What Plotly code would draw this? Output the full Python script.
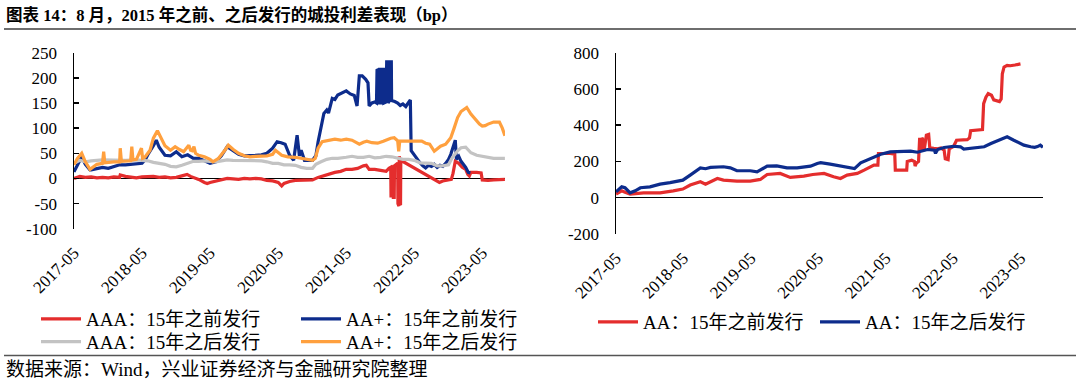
import pandas as pd
import plotly.graph_objects as go

# ---------------- data (month offsets from 2017-05-01, values in bp) ----------------
START = "2017-05-01"
X_END = "2023-08-31"
tick_start = "2017-05-01"

# y tick values / labels (hyphen-minus as in the reference)
left_yticks = [-100, -50, 0, 50, 100, 150, 200, 250]
left_ylabels = ["-100", "-50", "0", "50", "100", "150", "200", "250"]
right_yticks = [-200, 0, 200, 400, 600, 800]
right_ylabels = ["-200", "0", "200", "400", "600", "800"]

# Left panel
aaa_pre_m = [0, 0.5, 1, 2, 3, 4, 5, 6, 7, 8, 8.1, 9, 10, 11, 12, 13, 14, 15, 16, 17, 18, 19, 19.9, 20.5, 21, 22, 23, 23.5, 24, 25,
             26, 27, 28, 29, 30, 31, 32, 33, 34, 35, 36, 36.6, 37, 38, 39, 40, 41, 42, 43, 44, 45, 46, 47, 48, 49, 50, 51, 51.5, 52, 53,
             54, 55, 55.5, 55.8, 55.85, 56.0, 56.05, 56.2, 56.25, 56.4, 56.45, 57.0, 57.05, 57.25, 57.3, 57.4, 57.45, 57.55, 57.6, 64.4,
             65, 66, 66.5, 66.8, 67.2, 67.8, 68.4, 69, 69.4, 69.7, 70, 71, 71.8, 72, 73, 74, 75, 75.95]
aaa_pre_v = [0, 2, 4, 2, 3, 1, 2, 1, 3, 2, 7, 4, 2, 1, 3, 4, 4, 2, 3, 1, 2, 5, 8, 4, 2, -2, -8, -10, -8, -5,
             -2, 0, -1, -2, 0, -1, 0, -1, -4, -5, -8, -15, -10, -6, -4, -4, -3, -3, 2, 6, 10, 12, 14, 18, 18, 20, 25, 26, 18, 18,
             16, 14, 20, 22, -35, -35, 22, 25, -38, -38, 25, 30, -50, -55, 44, 40, -50, -50, 36, -8,
             -5, -3, -2, 10, 34, 30, 22, 18, 8, 5, 12, 12, 11, -3, -4, -3, -3, -2]

aap_pre_m = [0, 0.5, 1.35, 2, 2.8, 3, 4, 5, 6, 7, 8, 9, 10, 11, 12, 12.6, 13, 14, 14.5, 15, 16, 17, 18, 19, 20, 21, 22, 23, 24, 25,
             26, 27, 28, 29, 30, 31, 32, 33, 34, 35, 35.8, 36.5, 37.2, 38, 38.7, 39.3, 39.7, 40, 40.6, 42, 42.6, 43, 44, 44.5, 44.8,
             45.5, 46, 46.5, 47.8, 48, 48.7, 49.4, 49.9, 50.3, 50.8, 51.4, 51.8, 52, 52.5, 53, 53.3, 53.4, 53.6, 53.65, 53.8, 53.85,
             54.1, 54.15, 54.3, 54.35, 54.55, 54.6, 55.0, 55.1, 55.3, 55.35, 55.6, 55.65, 55.9, 55.95, 56.5, 57, 57.5, 58, 58.5, 59.3,
             59.45, 60, 60.5, 61, 61.5, 62, 62.5, 63, 63.5, 64, 64.5, 65, 65.5, 66, 66.4, 66.8, 67.2, 67.4, 67.8, 68.2, 68.6, 69, 69.5, 69.9]
aap_pre_v = [13, 25, 43, 28, 17, 17, 20, 22, 20, 23, 27, 27, 28, 30, 30, 38, 47, 65, 76, 62, 46, 45, 53, 43, 47, 40, 40, 35, 30, 33,
             45, 63, 55, 48, 45, 45, 46, 47, 50, 60, 73, 71, 68, 46, 36, 86, 45, 56, 36, 36, 45, 73, 129, 136, 130,
             159, 157, 166, 172, 174, 168, 165, 144, 204, 204, 197, 190, 144, 150, 152, 150, 217, 215, 150, 150, 217,
             217, 150, 150, 217, 217, 150, 152, 232, 232, 150, 155, 232, 232, 155, 153, 150, 145, 148, 143, 156,
             55, 46, 38, 31, 25, 21, 26, 24, 28, 22, 26, 24, 30, 38, 48, 60, 76, 38, 44, 34, 28, 22, 12, 11]

aaa_post_m = [0, 1, 2, 3, 5, 7, 9, 11, 12, 13, 14, 15, 16, 17, 18, 19, 20, 21, 22, 23, 24, 25, 26, 27, 28, 30, 32, 33, 34, 35,
              36, 37, 38, 39, 40, 41, 42, 42.6, 43.5, 44.5, 45.5, 46.5, 48, 49, 50, 51, 52, 53, 54, 55, 56, 57, 58, 59, 60, 61, 62,
              63, 64, 65, 66, 66.6, 67.6, 68.2, 69, 70, 71, 72, 73, 74, 75, 75.95]
aaa_post_v = [30, 36, 33, 35, 37, 36, 36, 37, 36, 35, 32, 30, 28, 24, 23, 26, 30, 34, 34, 35, 34, 33, 35, 37, 36, 36, 36, 35, 33, 30,
              30, 27, 27, 26, 22, 20, 20, 28, 33, 38, 40, 40, 42, 44, 42, 42, 44, 41, 42, 44, 43, 40, 38, 38, 36, 31, 31,
              30, 25, 25, 27, 40, 55, 61, 62, 51, 46, 44, 42, 40, 40, 40]

aap_post_m = [0, 0.6, 1.35, 2, 2.8, 3.5, 4, 5, 5.2, 5.4, 6, 7, 8, 8.1, 8.3, 9, 10, 10.2, 10.4, 11, 11.9, 12.1, 12.5, 13.4, 14, 14.7,
              15, 16, 17, 17.8, 18.5, 19.3, 20.2, 20.5, 20.8, 21.1, 21.4, 22, 23, 24, 24.5, 25.5, 26.6, 27.2, 28, 29, 30, 31, 32, 33,
              34, 35, 35.5, 36.6, 37.7, 39, 40, 41, 42, 42.5, 43, 43.7, 45, 46, 47, 48, 49, 50, 50.3, 51, 51.6, 52.5, 53.5, 54.5,
              55.2, 55.8, 56.4, 57, 57.2, 57.4, 58, 59, 60, 61.3, 62, 62.7, 63.5, 64, 64.6, 65.5, 66.4, 67, 67.6, 68.2, 69.2, 70,
              70.5, 71.5, 72, 72.5, 73, 74, 75, 75.5, 75.95]
aap_post_v = [27, 40, 50, 33, 18, 25, 28, 30, 53, 31, 32, 33, 33, 60, 34, 35, 35, 63, 37, 38, 60, 40, 42, 56, 80, 95,
              88, 65, 56, 63, 58, 53, 66, 56, 55, 63, 50, 46, 43, 38, 33, 40, 56, 66, 58, 50, 45, 43, 44, 45,
              45, 48, 56, 46, 43, 42, 40, 38, 36, 40, 60, 73, 76, 78, 76, 78, 76, 70, 68, 72, 74, 71, 70, 74,
              78, 80, 81, 75, 54, 74, 74, 74, 75, 74, 70, 68, 54, 58, 64, 68, 81, 100, 121, 133, 141, 128,
              121, 108, 104, 105, 108, 112, 112, 100, 85]

# Right panel
aa_pre_m = [0, 1, 1.6, 2.5, 4.9, 7.8, 10.2, 11.9, 13.2, 15, 15.9, 18, 19.1, 21.5, 23.9, 25.7, 26.9, 29.2, 31, 33.4,
            35, 36, 37, 38.7, 39.9, 41.1, 42.9, 44.1, 45.9, 46.6, 46.7, 48.8, 49.6, 49.7, 51.7, 51.8, 52.6, 53.1, 53.2, 53.4,
            53.8, 54.0, 54.2, 54.4, 54.6, 54.8, 55.0, 55.2, 55.6, 55.8, 56.5, 57.2, 57.8, 58.4, 58.6, 59.1, 59.3, 60.1, 60.6, 62.5,
            62.9, 63.1, 65.2, 65.4, 65.8, 66.2, 66.8, 67.2, 68.2, 68.5, 68.7, 69.0, 69.6, 70.2, 71, 72]
aa_pre_v = [20, 38, 30, 20, 27, 27, 38, 48, 70, 88, 75, 106, 97, 92, 92, 101, 128, 134, 112, 119,
            128, 130, 134, 116, 106, 125, 134, 152, 180, 180, 244, 244, 240, 152, 152, 200, 207, 200, 175, 190,
            200, 330, 260, 330, 320, 262, 300, 345, 349, 275, 272, 270, 275, 262, 215, 210, 270, 284, 317, 320,
            330, 370, 376, 519, 555, 574, 565, 540, 530, 545, 684, 721, 730, 728, 732, 738]

aa_post_m = [0, 1, 1.6, 2.5, 3.4, 4.3, 6, 7.8, 9.6, 11.9, 13.2, 15, 15.9, 16.8, 19.1, 20.3, 21.5, 23.9, 25.1, 26.9,
             28.6, 30.4, 32.2, 34.6, 35.8, 36.4, 38.1, 39.9, 41.8, 42.4, 43.5, 45.3, 47.1, 48.8, 50.6, 52.4, 53.6, 55.4, 56.6, 56.8,
             57.2, 58.4, 60.1, 61.3, 61.9, 64.3, 65.5, 66.7, 68.4, 69.6, 70.8, 72.6, 73.8, 74.5, 75, 75.5, 75.95]
aa_post_v = [33, 60, 55, 27, 38, 55, 60, 75, 83, 97, 125, 165, 160, 167, 171, 165, 149, 149, 143, 174,
             176, 165, 165, 174, 189, 193, 185, 174, 165, 161, 193, 217, 240, 253, 257, 257, 251, 266, 262, 245,
             266, 277, 284, 281, 268, 277, 281, 299, 323, 336, 317, 290, 281, 278, 282, 290, 278]

names_left = ["AAA：15年之前发行", "AA+：15年之前发行", "AAA：15年之后发行", "AA+：15年之后发行"]
names_right = ["AA：15年之前发行", "AA：15年之后发行"]
title_text = "图表 14：8 月，2015 年之前、之后发行的城投利差表现（bp）"
source_text = "数据来源：Wind，兴业证券经济与金融研究院整理"

RED, BLUE, GRAY, ORANGE = "#E42D2D", "#0D2C8C", "#C3C3C3", "#FFA03E"


def to_dates(months):
    base = pd.Timestamp(START)
    out = []
    for m in months:
        whole = int(m // 1)
        frac = m - whole
        d0 = base + pd.DateOffset(months=whole)
        d1 = base + pd.DateOffset(months=whole + 1)
        out.append(d0 + (d1 - d0) * frac)
    return out


FONT = "Liberation Serif, Noto Sans CJK SC, serif"
W, H = 1080, 380

fig = go.Figure()
LW = 3.2
# legend rows: legend = row 1 (left), legend2 = row 2 (left), legend3 = right
fig.add_trace(go.Scatter(x=to_dates(aaa_pre_m), y=aaa_pre_v, name=names_left[0], mode="lines",
                         line=dict(color=RED, width=LW), xaxis="x", yaxis="y", legend="legend"))
fig.add_trace(go.Scatter(x=to_dates(aap_pre_m), y=aap_pre_v, name=names_left[1], mode="lines",
                         line=dict(color=BLUE, width=LW), xaxis="x", yaxis="y", legend="legend"))
fig.add_trace(go.Scatter(x=to_dates(aaa_post_m), y=aaa_post_v, name=names_left[2], mode="lines",
                         line=dict(color=GRAY, width=LW), xaxis="x", yaxis="y", legend="legend2"))
fig.add_trace(go.Scatter(x=to_dates(aap_post_m), y=aap_post_v, name=names_left[3], mode="lines",
                         line=dict(color=ORANGE, width=LW), xaxis="x", yaxis="y", legend="legend2"))
fig.add_trace(go.Scatter(x=to_dates(aa_pre_m), y=aa_pre_v, name=names_right[0], mode="lines",
                         line=dict(color=RED, width=LW), xaxis="x2", yaxis="y2", legend="legend3"))
fig.add_trace(go.Scatter(x=to_dates(aa_post_m), y=aa_post_v, name=names_right[1], mode="lines",
                         line=dict(color=BLUE, width=LW), xaxis="x2", yaxis="y2", legend="legend3"))


def px_x(p):
    return p / W


def px_y(p):
    return 1 - p / H


L_DOM_X = [px_x(74), px_x(505)]
L_DOM_Y = [px_y(228.7), px_y(52.7)]
R_DOM_X = [px_x(616), px_x(1043)]
R_DOM_Y = [px_y(234), px_y(52.7)]
L_RANGE = [-100, 250]
R_RANGE = [-200, 800]

tickfont = dict(family=FONT, size=17, color="black")

xcommon = dict(type="date", range=[START, X_END], tick0=tick_start, dtick="M12", tickformat="%Y-%m",
               showgrid=False, zeroline=False, fixedrange=True, automargin=False)


def label_axis(dom, anchor):
    return dict(xcommon, domain=dom, anchor=anchor, showline=False, ticks="", tickangle=-45,
                tickfont=tickfont, ticklabelstandoff=10)


def zero_axis(over, yr, ydom):
    pos = ydom[0] + (0 - yr[0]) / (yr[1] - yr[0]) * (ydom[1] - ydom[0])
    return dict(xcommon, overlaying=over, anchor="free", position=pos, showline=True, linecolor="black",
                linewidth=1.5, ticks="inside", ticklen=5, tickwidth=1.5, tickcolor="black", showticklabels=False,
                matches=over)


def y_axis(dom, anchor, rng, tv, tt):
    return dict(domain=dom, anchor=anchor, range=rng, tickmode="array", tickvals=tv, ticktext=tt,
                showgrid=False, zeroline=True,
                zerolinecolor="black", zerolinewidth=1.5, showline=True, linecolor="black", linewidth=1.5,
                ticks="inside", ticklen=5, tickwidth=1.5, tickcolor="black", tickfont=tickfont,
                ticklabelstandoff=12, fixedrange=True, automargin=False)


legend_common = dict(orientation="h", bgcolor="rgba(0,0,0,0)", borderwidth=0,
                     font=dict(family=FONT, size=19, color="black"), xanchor="left", yanchor="middle",
                     tracegroupgap=0, itemwidth=40, traceorder="normal", entrywidthmode="pixels")

fig.update_layout(
    width=W, height=H, autosize=False,
    margin=dict(l=0, r=0, t=0, b=0, autoexpand=False),
    paper_bgcolor="white", plot_bgcolor="white",
    showlegend=True,
    xaxis=label_axis(L_DOM_X, "y"),
    xaxis2=label_axis(R_DOM_X, "y2"),
    xaxis3=zero_axis("x", L_RANGE, L_DOM_Y),
    xaxis4=zero_axis("x2", R_RANGE, R_DOM_Y),
    yaxis=y_axis(L_DOM_Y, "x", L_RANGE, left_yticks, left_ylabels),
    yaxis2=y_axis(R_DOM_Y, "x2", R_RANGE, right_yticks, right_ylabels),
    legend=dict(legend_common, x=px_x(36), y=px_y(319), entrywidth=205),
    legend2=dict(legend_common, x=px_x(36), y=px_y(341.7), entrywidth=205),
    legend3=dict(legend_common, x=px_x(593), y=px_y(322), entrywidth=167),
    annotations=[
        dict(text="<b>" + title_text + "</b>", x=px_x(4), y=px_y(15), xref="paper", yref="paper",
             xanchor="left", yanchor="middle", showarrow=False,
             font=dict(family=FONT, size=16.5, color="black")),
        dict(text=source_text, x=px_x(4), y=px_y(369), xref="paper", yref="paper",
             xanchor="left", yanchor="middle", showarrow=False,
             font=dict(family=FONT, size=19, color="black")),
    ],
    shapes=[
        dict(type="line", xref="paper", yref="paper", x0=px_x(4), x1=px_x(1076), y0=px_y(29), y1=px_y(29),
             line=dict(color="#6E6E6E", width=2)),
        dict(type="line", xref="paper", yref="paper", x0=px_x(4), x1=px_x(1076), y0=px_y(355.5), y1=px_y(355.5),
             line=dict(color="#555555", width=1.5)),
    ],
)

fig.write_html("out.html", config={"displayModeBar": False, "staticPlot": True},
               post_script="document.body.style.margin='0px';document.body.style.overflow='hidden';")
